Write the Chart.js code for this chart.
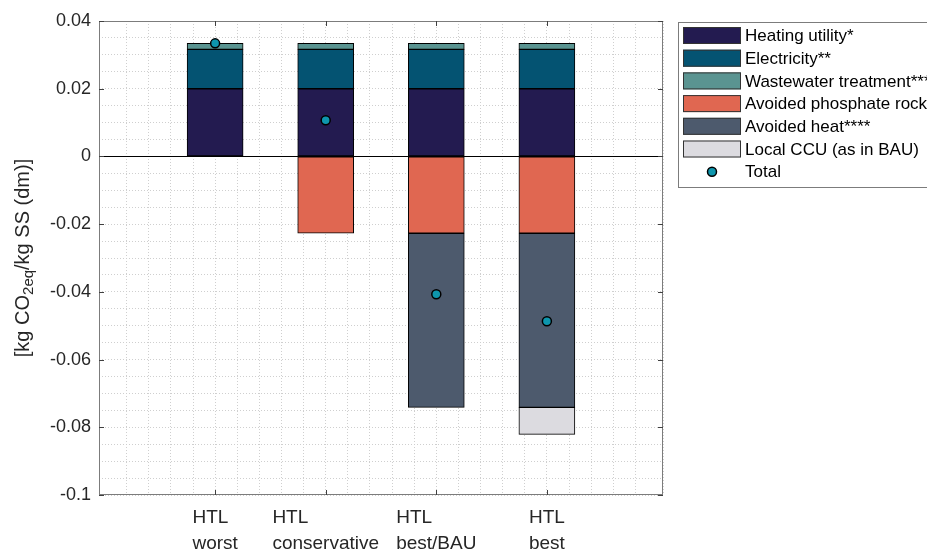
<!DOCTYPE html>
<html>
<head>
<meta charset="utf-8">
<script src="https://cdn.jsdelivr.net/npm/chart.js@4.4.0/dist/chart.umd.min.js"></script>
<style>
  html, body { margin: 0; padding: 0; background: #fff; }
</style>
</head>
<body>
<canvas id="lcaChart" width="927" height="553"></canvas>
<script>
// scenario labels (two lines each)
const scenarios = [['HTL', 'worst'], ['HTL', 'conservative'], ['HTL', 'best/BAU'], ['HTL', 'best']];

// contributions, kg CO2eq per kg SS (dm)
const heatingUtility = [0.02, 0.02, 0.02, 0.02];
const electricity    = [0.0116, 0.0116, 0.0116, 0.0116];
const wastewater     = [0.0018, 0.0018, 0.0018, 0.0018];
const phosphateRock  = [0, -0.0227, -0.0227, -0.0227];
const avoidedHeat    = [0, 0, -0.0514, -0.0514];
const localCCU       = [0, 0, 0, -0.008];
const totals         = [0.0334, 0.0107, -0.0407, -0.0487];

const yMajorTicks = [0.04, 0.02, 0, -0.02, -0.04, -0.06, -0.08, -0.1];

const FONT = "'Liberation Sans', Arial, Helvetica, sans-serif";

const series = [
  { label: 'Heating utility*',        values: heatingUtility, color: '#231b50' },
  { label: 'Electricity**',           values: electricity,    color: '#045372' },
  { label: 'Wastewater treatment***', values: wastewater,     color: '#5a9491' },
  { label: 'Avoided phosphate rock',  values: phosphateRock,  color: '#e06751' },
  { label: 'Avoided heat****',        values: avoidedHeat,    color: '#4d5a6d' },
  { label: 'Local CCU (as in BAU)',   values: localCCU,       color: '#dcdbe0' }
];
const totalColor = '#0e96ad';

const barSets = series.map(s => ({
  type: 'bar',
  label: s.label,
  data: s.values.map((v, i) => ({ x: i + 1, y: v === 0 ? null : v })),
  backgroundColor: s.color,
  borderColor: '#000',
  borderWidth: 1,
  borderSkipped: false,
  barThickness: 56
}));

const totalSet = {
  type: 'scatter',
  label: 'Total',
  stack: 'total',
  order: -1,
  data: totals.map((v, i) => ({ x: i + 1, y: v })),
  backgroundColor: totalColor,
  borderColor: '#000',
  borderWidth: 1.5,
  pointRadius: 4.5
};

function isMajor(v) {
  return yMajorTicks.some(t => Math.abs(t - v) < 1e-7);
}

const frame = {
  id: 'frame',
  beforeDatasetsDraw(chart) {
    const { ctx, chartArea: a, scales: { y } } = chart;
    const y0 = Math.round(y.getPixelForValue(0)) + 0.5;
    ctx.save();
    ctx.strokeStyle = '#000';
    ctx.lineWidth = 1;
    ctx.beginPath();
    ctx.moveTo(a.left, y0);
    ctx.lineTo(a.right, y0);
    ctx.stroke();
    ctx.restore();
  },
  afterDraw(chart) {
    const { ctx, chartArea: a, scales: { x, y } } = chart;
    ctx.save();

    // axes box and inward ticks
    ctx.strokeStyle = '#7c7c7c';
    ctx.lineWidth = 1;
    ctx.strokeRect(a.left + 0.5, a.top + 0.5, a.right - a.left - 1, a.bottom - a.top - 1);
    ctx.strokeStyle = '#404040';
    ctx.beginPath();
    scenarios.forEach((_, i) => {
      const px = Math.round(x.getPixelForValue(i + 1)) + 0.5;
      ctx.moveTo(px, a.bottom); ctx.lineTo(px, a.bottom - 5);
      ctx.moveTo(px, a.top); ctx.lineTo(px, a.top + 5);
    });
    yMajorTicks.forEach(t => {
      const py = Math.round(y.getPixelForValue(t)) + 0.5;
      ctx.moveTo(a.left, py); ctx.lineTo(a.left + 5, py);
      ctx.moveTo(a.right, py); ctx.lineTo(a.right - 5, py);
    });
    ctx.stroke();

    // category labels, lines left-aligned inside a centred block
    ctx.fillStyle = '#262626';
    ctx.font = '19px ' + FONT;
    ctx.textAlign = 'left';
    ctx.textBaseline = 'alphabetic';
    scenarios.forEach((lines, i) => {
      const px = x.getPixelForValue(i + 1);
      const w = Math.max(...lines.map(l => ctx.measureText(l).width));
      lines.forEach((l, k) => ctx.fillText(l, px - w / 2, a.bottom + 28 + k * 26));
    });

    // y axis title with subscript
    const parts = [['[kg CO', 20, 0], ['2eq', 15, 6], ['/kg SS (dm)]', 20, 0]];
    ctx.translate(23, (a.top + a.bottom) / 2);
    ctx.rotate(-Math.PI / 2);
    ctx.textBaseline = 'middle';
    let total = 0;
    parts.forEach(p => { ctx.font = p[1] + 'px ' + FONT; total += ctx.measureText(p[0]).width; });
    let cx = -total / 2;
    parts.forEach(p => {
      ctx.font = p[1] + 'px ' + FONT;
      ctx.fillText(p[0], cx, p[2]);
      cx += ctx.measureText(p[0]).width;
    });
    ctx.setTransform(1, 0, 0, 1, 0, 0);

    // legend
    const lx = 678, ly = 22, rowH = 22.7;
    ctx.fillStyle = '#fff';
    ctx.fillRect(lx, ly, 260, 165);
    ctx.strokeStyle = '#7c7c7c';
    ctx.strokeRect(lx + 0.5, ly + 0.5, 260, 165);
    ctx.font = '17px ' + FONT;
    ctx.textBaseline = 'middle';
    const items = chart.data.datasets;
    items.forEach((ds, i) => {
      const cy = ly + 13.5 + i * rowH;
      if (ds.type === 'bar') {
        ctx.fillStyle = ds.backgroundColor;
        ctx.fillRect(683, cy - 8.5, 58, 17);
        ctx.strokeStyle = '#333';
        ctx.strokeRect(683.5, cy - 8, 57, 16);
      } else {
        ctx.beginPath();
        ctx.arc(712, cy, 4.5, 0, Math.PI * 2);
        ctx.fillStyle = ds.backgroundColor;
        ctx.fill();
        ctx.lineWidth = 1.5;
        ctx.strokeStyle = '#000';
        ctx.stroke();
        ctx.lineWidth = 1;
      }
      ctx.fillStyle = '#000';
      ctx.fillText(ds.label, 745, cy + 1);
    });
    ctx.restore();
  }
};

new Chart(document.getElementById('lcaChart'), {
  data: { datasets: [...barSets, totalSet] },
  options: {
    responsive: false,
    animation: false,
    layout: { padding: { top: 21, right: 264, bottom: 0, left: 0 } },
    plugins: { legend: { display: false }, tooltip: { enabled: false } },
    scales: {
      x: {
        type: 'linear',
        stacked: true,
        offset: false,
        min: -0.05,
        max: 5.05,
        afterFit: s => { s.height = 58; },
        ticks: { stepSize: 0.2, autoSkip: false, callback: () => '' },
        grid: { color: '#cfcfcf', lineWidth: 1, drawTicks: false, offset: false },
        border: { display: false, dash: [1, 2] }
      },
      y: {
        stacked: true,
        min: -0.1,
        max: 0.04,
        afterFit: s => { s.width = 99; },
        ticks: {
          stepSize: 0.005,
          autoSkip: false,
          padding: 8,
          color: '#262626',
          font: { family: FONT, size: 18 },
          callback: v => isMajor(v) ? String(Number(v.toFixed(3))) : ''
        },
        grid: { color: '#cfcfcf', lineWidth: 1, drawTicks: false },
        border: { display: false, dash: [1, 2] }
      }
    }
  },
  plugins: [frame]
});
</script>
</body>
</html>
